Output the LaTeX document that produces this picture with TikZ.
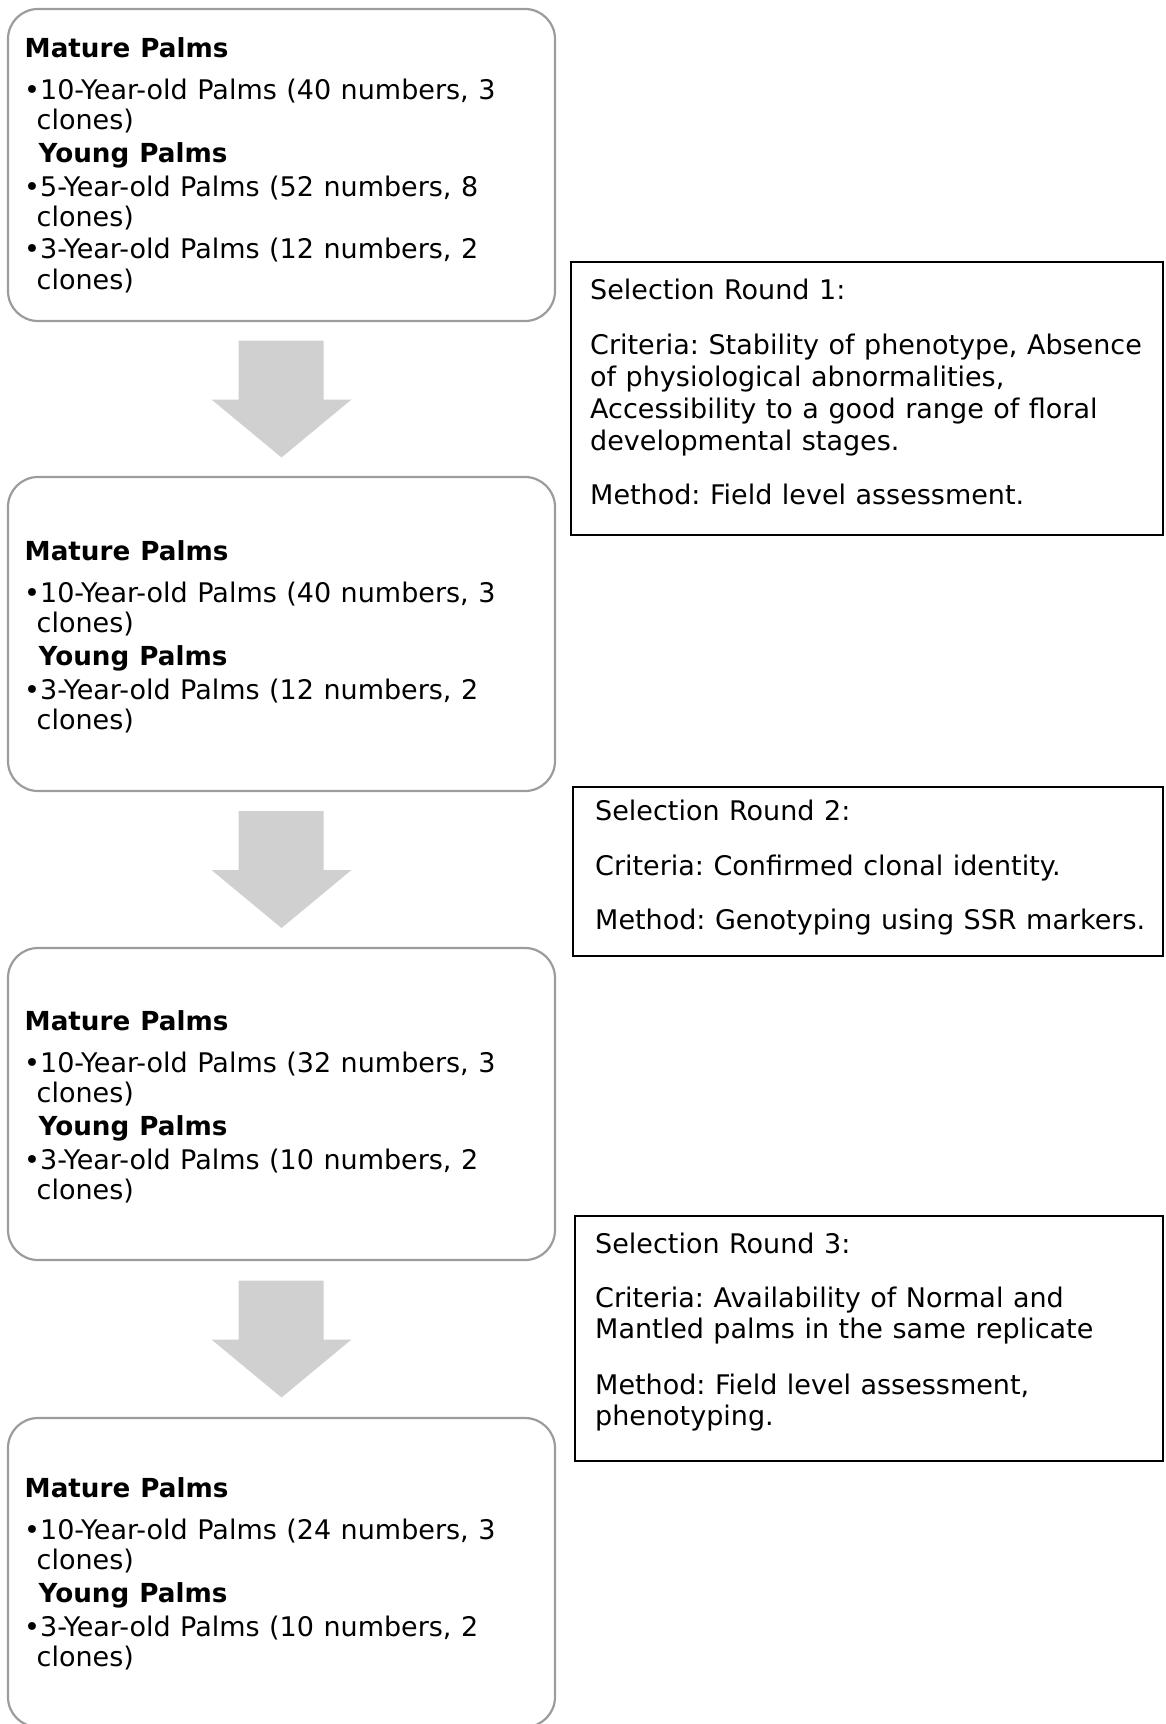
\documentclass[tikz,border=0pt]{standalone}
\usepackage{fontspec}
\setmainfont{DejaVu Sans}[WordSpace=1.107]
\usetikzlibrary{calc}
\definecolor{palmgray}{HTML}{9C9C9C}
\definecolor{arrowgray}{HTML}{D0D0D0}
\tikzset{
  palmbox/.style={draw=palmgray, line width=2.2pt, rounded corners=30pt, inner sep=0pt, minimum width=547pt},
  roundbox/.style={draw=black, line width=1.8pt, inner sep=0pt},
  txt/.style={anchor=base west, inner sep=0pt, font=\fontsize{27}{30}\selectfont},
  head/.style={txt, font=\fontsize{26.2}{30}\selectfont\bfseries},
  downarrow/.pic={\fill[arrowgray] (-43,-58.5) -- (42,-58.5) -- (42,0.5) -- (70,0.5)
      -- (0,58.5) -- (-70,0.5) -- (-43,0.5) -- cycle;}
}
\frenchspacing
\begin{document}
\begin{tikzpicture}[x=1pt, y=-1pt]
\useasboundingbox (0,0) rectangle (1166,1724);
\clip (0,0) rectangle (1166,1724);

% palm groups after each selection round
\node[palmbox, minimum height=312pt] (b1) at (281.5,165) {};
\node[palmbox, minimum height=314pt] (b2) at (281.5,634) {};
\node[palmbox, minimum height=312pt] (b3) at (281.5,1104) {};
\node[palmbox, minimum height=309pt] (b4) at (281.5,1572.5) {};

% selection rounds
\node[roundbox, minimum width=592pt, minimum height=273pt] (r1) at (867,398.5) {};
\node[roundbox, minimum width=590pt, minimum height=169pt] (r2) at (868,871.5) {};
\node[roundbox, minimum width=588pt, minimum height=245pt] (r3) at (869,1338.5) {};

% block arrows between the groups
\coordinate (g1) at ($(b1.south)!0.5!(b2.north)$);
\coordinate (g2) at ($(b2.south)!0.5!(b3.north)$);
\coordinate (g3) at ($(b3.south)!0.5!(b4.north)$);
\pic at (g1) {downarrow};
\pic at (g2) {downarrow};
\pic at (g3) {downarrow};

% group 1
\node[head] (b1a) at (24.5,57) {Mature Palms};
\node[txt]  (b1b) at (24,99)   {•10-Year-old Palms (40 numbers, 3};
\node[txt]  (b1c) at (36.5,129) {clones)};
\node[head] (b1d) at (38.5,162) {Young Palms};
\node[txt]  (b1e) at (24,196)  {•5-Year-old Palms (52 numbers, 8};
\node[txt]  (b1f) at (36.5,226) {clones)};
\node[txt]  (b1g) at (24,258)  {•3-Year-old Palms (12 numbers, 2};
\node[txt]  (b1h) at (36.5,289) {clones)};

% group 2
\node[head] (b2a) at (24.5,560) {Mature Palms};
\node[txt]  (b2b) at (24,602)   {•10-Year-old Palms (40 numbers, 3};
\node[txt]  (b2c) at (36.5,632) {clones)};
\node[head] (b2d) at (38.5,665) {Young Palms};
\node[txt]  (b2e) at (24,699)   {•3-Year-old Palms (12 numbers, 2};
\node[txt]  (b2f) at (36.5,729) {clones)};

% group 3
\node[head] (b3a) at (24.5,1030) {Mature Palms};
\node[txt]  (b3b) at (24,1072)   {•10-Year-old Palms (32 numbers, 3};
\node[txt]  (b3c) at (36.5,1102) {clones)};
\node[head] (b3d) at (38.5,1135) {Young Palms};
\node[txt]  (b3e) at (24,1169)   {•3-Year-old Palms (10 numbers, 2};
\node[txt]  (b3f) at (36.5,1199) {clones)};

% group 4
\node[head] (b4a) at (24.5,1497) {Mature Palms};
\node[txt]  (b4b) at (24,1539)   {•10-Year-old Palms (24 numbers, 3};
\node[txt]  (b4c) at (36.5,1569) {clones)};
\node[head] (b4d) at (38.5,1602) {Young Palms};
\node[txt]  (b4e) at (24,1636)   {•3-Year-old Palms (10 numbers, 2};
\node[txt]  (b4f) at (36.5,1666) {clones)};

% round 1
\node[txt] (r1a) at (590,299) {Selection Round 1:};
\node[txt] (r1b) at (590,354) {Criteria: Stability of phenotype, Absence};
\node[txt] (r1c) at (590,386) {of physiological abnormalities,};
\node[txt] (r1d) at (590,418) {Accessibility to a good range of floral};
\node[txt] (r1e) at (590,450) {developmental stages.};
\node[txt] (r1f) at (590,504) {Method: Field level assessment.};

% round 2
\node[txt] (r2a) at (595,820) {Selection Round 2:};
\node[txt] (r2b) at (595,875) {Criteria: Confirmed clonal identity.};
\node[txt] (r2c) at (595,929) {Method: Genotyping using SSR markers.};

% round 3
\node[txt] (r3a) at (595,1253) {Selection Round 3:};
\node[txt] (r3b) at (595,1307) {Criteria: Availability of Normal and};
\node[txt] (r3c) at (595,1338) {Mantled palms in the same replicate};
\node[txt] (r3d) at (595,1394) {Method: Field level assessment,};
\node[txt] (r3e) at (595,1425) {phenotyping.};
\end{tikzpicture}
\end{document}
